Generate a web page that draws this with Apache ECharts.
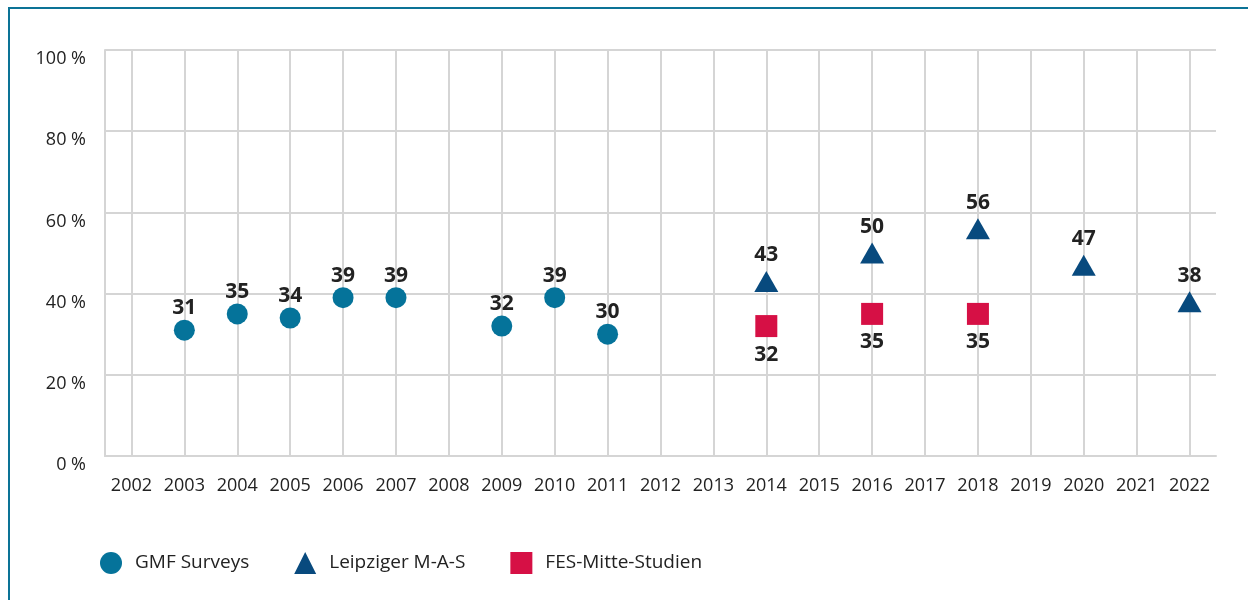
<!DOCTYPE html>
<html>
<head>
<meta charset="utf-8">
<script src="https://cdn.jsdelivr.net/npm/echarts@6/dist/echarts.min.js"></script>
<style>
html,body{margin:0;padding:0;background:#fff;}
#chart{width:1248px;height:600px;}
</style>
</head>
<body>
<div id="chart"></div>
<script>
// ---- data ----
var years = ['2002','2003','2004','2005','2006','2007','2008','2009','2010','2011','2012','2013','2014','2015','2016','2017','2018','2019','2020','2021','2022'];
var yTicks = [0, 20, 40, 60, 80, 100];

var gmfYears = ['2003','2004','2005','2006','2007','2009','2010','2011'];
var gmfValues = [31, 35, 34, 39, 39, 32, 39, 30];

var leipzigYears = ['2014','2016','2018','2020','2022'];
var leipzigValues = [43, 50, 56, 47, 38];

var fesYears = ['2014','2016','2018'];
var fesValues = [32, 35, 35];

var seriesNames = ['GMF Surveys', 'Leipziger M-A-S', 'FES-Mitte-Studien'];

function pairs(xs, vs) { return xs.map(function (x, i) { return [x, vs[i]]; }); }

var FONT = '"Open Sans", "Noto Sans", sans-serif';
var GRID_COLOR = '#d5d5d5';

var labelStyle = {
  show: true,
  fontFamily: FONT,
  fontWeight: 'bold',
  fontSize: 21,
  color: '#222'
};

var chart = echarts.init(document.getElementById('chart'), null, {renderer: 'canvas'});
chart.setOption({
  animation: false,
  backgroundColor: '#fff',
  graphic: [{
    type: 'rect',
    shape: {x: 9, y: 8, width: 1400, height: 800},
    style: {fill: 'none', stroke: '#0c7396', lineWidth: 2},
    silent: true,
    z: -10
  }],
  grid: {left: 105, right: 32, top: 50, bottom: 144, containLabel: false},
  xAxis: {
    type: 'category',
    data: years,
    boundaryGap: true,
    axisLine: {show: true, lineStyle: {color: GRID_COLOR, width: 2}},
    axisTick: {show: false},
    splitLine: {show: false},
    axisLabel: {
      interval: 0,
      margin: 21,
      fontFamily: FONT,
      fontSize: 18,
      color: '#222'
    }
  },
  yAxis: {
    type: 'value',
    min: yTicks[0],
    max: yTicks[yTicks.length - 1],
    interval: 20,
    axisLine: {show: true, lineStyle: {color: GRID_COLOR, width: 2}},
    axisTick: {show: false},
    splitLine: {show: true, lineStyle: {color: GRID_COLOR, width: 2}},
    axisLabel: {
      margin: 19,
      fontFamily: FONT,
      fontSize: 18,
      color: '#222',
      verticalAlign: 'top',
      formatter: function (v) { return v + ' %'; }
    }
  },
  legend: {
    left: 95,
    top: 547,
    itemWidth: 22,
    itemHeight: 22,
    itemGap: 45,
    textStyle: {fontFamily: FONT, fontSize: 19, color: '#222', padding: [0, 0, 0, 8]},
    data: [
      {name: seriesNames[0], icon: 'circle'},
      {name: seriesNames[1], icon: 'triangle'},
      {name: seriesNames[2], icon: 'rect'}
    ]
  },
  series: [
    {
      name: '_grid',
      type: 'line',
      data: [],
      silent: true,
      z: 1,
      markLine: {
        silent: true,
        symbol: ['none', 'none'],
        label: {show: false},
        z: 1,
        lineStyle: {color: GRID_COLOR, width: 2, type: 'solid'},
        data: years.map(function (y) { return {xAxis: y}; })
      }
    },
    {
      name: seriesNames[0],
      type: 'scatter',
      z: 3,
      symbol: 'circle',
      symbolSize: 21,
      itemStyle: {color: '#05739a', opacity: 1},
      label: Object.assign({position: 'top', distance: 1}, labelStyle),
      data: pairs(gmfYears, gmfValues)
    },
    {
      name: seriesNames[1],
      type: 'scatter',
      z: 3,
      symbol: 'triangle',
      symbolSize: [24, 21],
      itemStyle: {color: '#084a7e', opacity: 1},
      label: Object.assign({position: 'top', distance: 5}, labelStyle),
      data: pairs(leipzigYears, leipzigValues)
    },
    {
      name: seriesNames[2],
      type: 'scatter',
      z: 3,
      symbol: 'rect',
      symbolSize: 22,
      itemStyle: {color: '#d61045', opacity: 1},
      label: Object.assign({position: 'bottom', distance: 7}, labelStyle),
      data: pairs(fesYears, fesValues)
    }
  ]
});
</script>
</body>
</html>
